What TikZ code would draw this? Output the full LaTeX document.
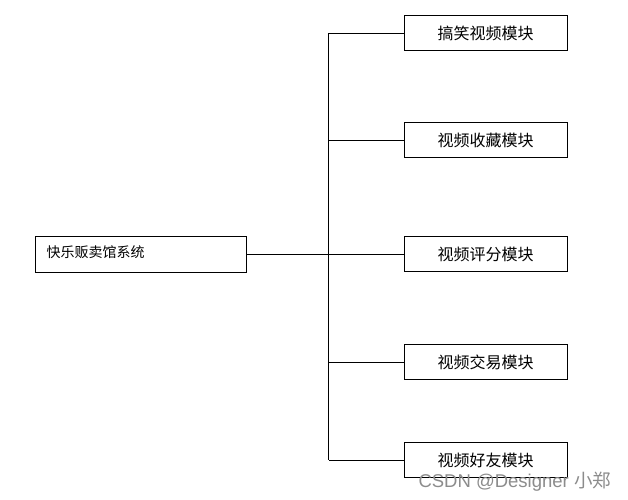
\documentclass[tikz,border=0pt]{standalone}
\usepackage{fontspec}
\setmainfont{Liberation Sans}
\newfontfamily\cjk{Noto Sans CJK SC}
\begin{document}
\begin{tikzpicture}[x=1pt,y=-1pt,line width=1pt,
  modbox/.style={draw=black,minimum width=163pt,minimum height=35pt,inner sep=0pt,font=\cjk\fontsize{16}{16}\selectfont}]
\useasboundingbox[fill=white] (0,0) rectangle (628,499);
\node[draw=black,minimum width=211pt,minimum height=36pt,inner sep=0pt] (root) at (140.5,254) {};
\node[anchor=west,font=\cjk\fontsize{14}{14}\selectfont,inner sep=0pt] (roottext) at (46,252) {快乐贩卖馆系统};
\node[modbox] (m1) at (485.5,33) {搞笑视频模块};
\node[modbox] (m2) at (485.5,140) {视频收藏模块};
\node[modbox] (m3) at (485.5,254) {视频评分模块};
\node[modbox] (m4) at (485.5,362) {视频交易模块};
\node[modbox] (m5) at (485.5,460) {视频好友模块};
\coordinate (top) at (328.5,33);
\coordinate (bot) at (328.5,460);
\coordinate (mid) at (328.5,254);
\draw (top) -- (bot);
\draw (root.east) -- (mid);
\foreach \m in {m1,m2,m3,m4,m5} \draw (\m.west) -- (\m.west -| mid);
\node[anchor=base west,inner sep=0pt,text=black!45,font=\fontsize{18.5}{18.5}\selectfont] (wm) at (418,487) {CSDN @Designer {\cjk 小郑}};
\end{tikzpicture}
\end{document}
